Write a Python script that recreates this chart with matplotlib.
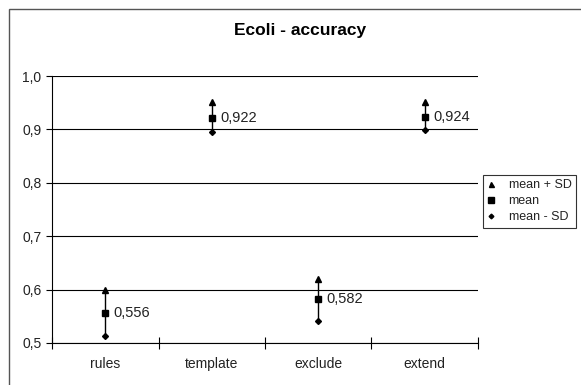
import numpy as np
import matplotlib.pyplot as plt
from matplotlib.patches import Rectangle
from matplotlib.ticker import FuncFormatter

plt.rcParams['font.family'] = ['Liberation Sans', 'DejaVu Sans']

categories = ['rules', 'template', 'exclude', 'extend']
mean = [0.556, 0.922, 0.582, 0.924]
mean_plus_sd = [0.599, 0.952, 0.620, 0.952]
mean_minus_sd = [0.513, 0.896, 0.542, 0.898]

fig = plt.figure(figsize=(5.81, 3.85), dpi=100)
ax = fig.add_axes([52/581, 1-343/385, (478-52)/581, (343-76)/385])

# outer chart frame (only top/left visible)
fig.patches.append(Rectangle((9/581, -0.1), 1.2, 1.1 - 9/385, transform=fig.transFigure,
                             fill=False, edgecolor='#555555', lw=1.0))

x = np.arange(len(categories))
for i in range(len(categories)):
    ax.plot([x[i], x[i]], [mean_minus_sd[i], mean_plus_sd[i]], color='black', lw=1, zorder=2)
ax.plot(x, mean_plus_sd, '^', color='black', ms=4.5, ls='none', label='mean + SD', zorder=3)
ax.plot(x, mean, 's', color='black', ms=5, ls='none', label='mean', zorder=3)
ax.plot(x, mean_minus_sd, 'D', color='black', ms=3, ls='none', label='mean - SD', zorder=3)

for i in range(len(categories)):
    ax.annotate(f'{mean[i]:.3f}'.replace('.', ','), (x[i], mean[i]), xytext=(6, 0),
                textcoords='offset points', va='center', ha='left', fontsize=10.5,
                color='#222222')

ax.set_xlim(-0.5, len(categories) - 0.5)
ax.set_ylim(0.5, 1.0)
ax.set_yticks(np.arange(0.5, 1.01, 0.1))
ax.yaxis.set_major_formatter(FuncFormatter(lambda v, p: f'{v:.1f}'.replace('.', ',')))
ax.set_xticks(np.arange(-0.5, len(categories), 1.0))
ax.set_xticklabels([])
ax.set_xticks(x, minor=True)
ax.set_xticklabels(categories, minor=True, fontsize=10, color='#222222')
ax.tick_params(axis='x', which='minor', length=0, pad=10)
ax.tick_params(axis='x', which='major', direction='inout', length=8, width=0.8)
ax.tick_params(axis='y', direction='out', length=4, labelsize=10, labelcolor='#222222', width=0.8)
ax.grid(axis='y', color='black', lw=0.8)
ax.set_axisbelow(True)
for s in ['top', 'right']:
    ax.spines[s].set_visible(False)
ax.spines['left'].set_linewidth(0.8)
ax.spines['bottom'].set_linewidth(0.8)

fig.text(300/581, 1 - 31/385, 'Ecoli - accuracy', ha='center', va='center', fontsize=12.5, fontweight='bold')

leg = fig.legend(loc='upper left', bbox_to_anchor=(483/581, 1 - 175/385), fontsize=9,
                 frameon=True, fancybox=False, edgecolor='black', handlelength=0.6,
                 handletextpad=1.1, borderpad=0.35, labelspacing=0.32, borderaxespad=0,
                 markerscale=0.8)
leg.get_frame().set_linewidth(0.8)
for t in leg.get_texts():
    t.set_color('#222222')

fig.savefig('out.png', dpi=100)
